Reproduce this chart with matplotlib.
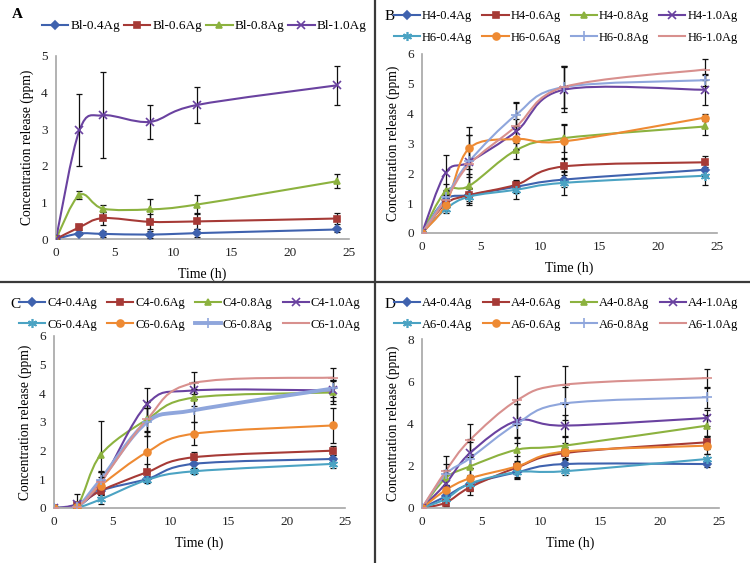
import numpy as np
import matplotlib.pyplot as plt
from matplotlib.path import Path
from matplotlib.patches import PathPatch
from matplotlib.lines import Line2D

plt.rcParams['font.family'] = ['Liberation Serif', 'DejaVu Serif']

# 时间点 (h)
time = [0, 2, 4, 8, 12, 24]

# A
labels_a = ['Bl-0.4Ag', 'Bl-0.6Ag', 'Bl-0.8Ag', 'Bl-1.0Ag']
vals_a = [
    [0, 0.15, 0.14, 0.12, 0.16, 0.26],
    [0, 0.32, 0.57, 0.47, 0.48, 0.56],
    [0, 1.20, 0.83, 0.81, 0.94, 1.58],
    [0, 2.97, 3.38, 3.20, 3.66, 4.20],
]
err_a = [
    [0, 0.05, 0.08, 0.10, 0.10, 0.08],
    [0, 0.08, 0.18, 0.20, 0.22, 0.16],
    [0, 0.10, 0.10, 0.28, 0.27, 0.20],
    [0, 0.98, 1.17, 0.46, 0.48, 0.54],
]

# B
labels_b = ['H4-0.4Ag', 'H4-0.6Ag', 'H4-0.8Ag', 'H4-1.0Ag',
            'H6-0.4Ag', 'H6-0.6Ag', 'H6-0.8Ag', 'H6-1.0Ag']
vals_b = [
    [0, 1.12, 1.27, 1.55, 1.79, 2.12],
    [0, 0.98, 1.27, 1.62, 2.23, 2.37],
    [0, 1.40, 1.58, 2.78, 3.18, 3.57],
    [0, 2.02, 2.38, 3.41, 4.80, 4.80],
    [0, 0.80, 1.22, 1.45, 1.68, 1.92],
    [0, 0.94, 2.84, 3.15, 3.07, 3.87],
    [0, 1.20, 2.40, 3.97, 4.89, 5.12],
    [0, 1.10, 2.30, 3.58, 4.89, 5.48],
]
err_b = [
    [0, 0.15, 0.20, 0.20, 0.25, 0.20],
    [0, 0.20, 0.25, 0.15, 0.30, 0.22],
    [0, 0.25, 0.40, 0.30, 0.45, 0.28],
    [0, 0.60, 0.50, 0.40, 0.75, 0.50],
    [0, 0.12, 0.28, 0.30, 0.40, 0.30],
    [0, 0.20, 0.70, 0.35, 0.60, 0.12],
    [0, 0.25, 0.90, 0.40, 0.70, 0.20],
    [0, 0.20, 1.00, 0.80, 0.70, 0.34],
]

# C
labels_c = ['C4-0.4Ag', 'C4-0.6Ag', 'C4-0.8Ag', 'C4-1.0Ag',
            'C6-0.4Ag', 'C6-0.6Ag', 'C6-0.8Ag', 'C6-1.0Ag']
vals_c = [
    [0, 0.05, 0.60, 1.01, 1.54, 1.71],
    [0, 0.10, 0.60, 1.25, 1.77, 2.00],
    [0, 0.10, 1.85, 3.09, 3.85, 4.03],
    [0, 0.15, 0.85, 3.62, 4.10, 4.10],
    [0, 0.02, 0.30, 0.98, 1.28, 1.54],
    [0, 0.05, 0.78, 1.95, 2.59, 2.88],
    [0, 0.05, 0.98, 3.00, 3.41, 4.17],
    [0, 0.05, 0.90, 3.10, 4.36, 4.55],
]
err_c = [
    [0, 0.02, 0.10, 0.10, 0.15, 0.15],
    [0, 0.05, 0.25, 0.30, 0.20, 0.15],
    [0, 0.05, 1.20, 0.40, 0.30, 0.40],
    [0, 0.35, 0.40, 0.57, 0.30, 0.35],
    [0, 0.02, 0.15, 0.10, 0.10, 0.15],
    [0, 0.05, 0.30, 0.70, 0.40, 0.60],
    [0, 0.05, 0.30, 0.50, 0.40, 0.30],
    [0, 0.05, 0.35, 0.60, 0.40, 0.35],
]

# D
labels_d = ['A4-0.4Ag', 'A4-0.6Ag', 'A4-0.8Ag', 'A4-1.0Ag',
            'A6-0.4Ag', 'A6-0.6Ag', 'A6-0.8Ag', 'A6-1.0Ag']
vals_d = [
    [0, 0.55, 1.13, 1.69, 2.08, 2.08],
    [0, 0.25, 0.97, 1.92, 2.60, 3.11],
    [0, 1.42, 1.96, 2.76, 2.95, 3.90],
    [0, 1.15, 2.58, 4.13, 3.90, 4.26],
    [0, 0.43, 1.15, 1.70, 1.74, 2.32],
    [0, 0.85, 1.40, 1.97, 2.67, 2.95],
    [0, 1.60, 2.34, 4.00, 4.95, 5.24],
    [0, 1.75, 3.20, 5.10, 5.84, 6.15],
]
err_d = [
    [0, 0.20, 0.30, 0.30, 0.30, 0.15],
    [0, 0.15, 0.35, 0.30, 0.30, 0.30],
    [0, 0.40, 0.60, 0.60, 0.40, 0.50],
    [0, 0.50, 0.70, 0.80, 0.50, 0.40],
    [0, 0.20, 0.35, 0.30, 0.20, 0.25],
    [0, 0.25, 0.50, 0.50, 0.40, 0.40],
    [0, 0.50, 0.80, 0.90, 0.80, 0.50],
    [0, 0.73, 0.80, 1.15, 0.90, 0.45],
]

colors = ['#3F62AE', '#A63A36', '#8CB23F', '#6A42A0',
          '#4BA3C3', '#EE8A33', '#8FA6DC', '#D8908E']
markers = ['D', 's', '^', 'x', (6, 2, 0), 'o', '+', '_']
msizes = [4, 5, 5, 5.5, 6.5, 5, 6.5, 6.5]

W, H = 750, 563


def smooth_path(x, y):
    # Excel式平滑曲线: 三次贝塞尔
    x = np.asarray(x, float)
    y = np.asarray(y, float)
    n = len(x)
    verts = [(x[0], y[0])]
    codes = [Path.MOVETO]
    for i in range(n - 1):
        i0 = max(i - 1, 0)
        i3 = min(i + 2, n - 1)
        c1 = (x[i] + (x[i + 1] - x[i0]) / 6, y[i] + (y[i + 1] - y[i0]) / 6)
        c2 = (x[i + 1] - (x[i3] - x[i]) / 6, y[i + 1] - (y[i3] - y[i]) / 6)
        verts += [c1, c2, (x[i + 1], y[i + 1])]
        codes += [Path.CURVE4] * 3
    return Path(verts, codes)


def make_axes(fig, left, right, y0, ytop, ymax, ystep):
    ax = fig.add_axes([left / W, 1 - y0 / H, (right - left) / W, (y0 - ytop) / H])
    ax.set_xlim(0, 25)
    ax.set_ylim(0, ymax)
    ax.set_xticks(range(0, 26, 5))
    ax.set_yticks(np.arange(0, ymax + 0.01, ystep))
    for s in ['top', 'right']:
        ax.spines[s].set_visible(False)
    for s in ['left', 'bottom']:
        ax.spines[s].set_color('#A6A6A6')
        ax.spines[s].set_linewidth(1.2)
    ax.tick_params(length=0, labelsize=9.5, pad=6, colors='#222222')
    ax.set_xlabel('Time (h)', fontsize=10, labelpad=6)
    ax.set_ylabel('Concentration release (ppm)', fontsize=9.8, labelpad=5)
    ax.patch.set_alpha(0)
    return ax


def draw_panel(ax, labels, vals, errs, widths=None):
    handles = []
    for i, lab in enumerate(labels):
        lw = 1.5 if widths is None else widths[i]
        patch = PathPatch(smooth_path(time, vals[i]), fill=False,
                          edgecolor=colors[i], lw=lw, transform=ax.transData,
                          zorder=2)
        ax.add_patch(patch)
        ax.errorbar(time, vals[i], yerr=errs[i], fmt='none', ecolor='#111111',
                    elinewidth=0.9, capsize=2.5, capthick=0.9, zorder=3)
        ax.plot(time, vals[i], ls='none', marker=markers[i], ms=msizes[i],
                color=colors[i], mec=colors[i], mew=1.2, zorder=4)
        handles.append(Line2D([], [], color=colors[i], lw=lw, marker=markers[i],
                              ms=msizes[i], mew=1.2))
    return handles


fig = plt.figure(figsize=(7.5, 5.63), dpi=100)

# A
ax_a = make_axes(fig, 56, 349, 239, 56, 5, 1)
h = draw_panel(ax_a, labels_a, vals_a, err_a)
fig.legend(h, labels_a, loc='upper left', bbox_to_anchor=(42 / W, 1 - 20 / H),
           ncol=4, frameon=False, fontsize=9.5, handlelength=2.0,
           handletextpad=0.15, columnspacing=0.3, borderpad=0, borderaxespad=0)
fig.text(12 / W, 1 - 14 / H, 'A', fontsize=11, fontweight='bold', va='center')

# B, C, D
panels = [
    ('B', labels_b, vals_b, err_b, (422, 717, 233, 54, 6, 1), (375, 0, 10), None),
    ('C', labels_c, vals_c, err_c, (54, 345, 508, 336, 6, 1), (0, 282, 15),
     [1.5, 1.5, 1.5, 1.5, 1.5, 1.5, 2.8, 1.5]),
    ('D', labels_d, vals_d, err_d, (422, 719, 508, 339, 8, 2), (375, 282, 15), None),
]
for letter, labs, vals, errs, geo, (ox, oy, dy), widths in panels:
    ax = make_axes(fig, *geo)
    h = draw_panel(ax, labs, vals, errs, widths)
    order = [0, 4, 1, 5, 2, 6, 3, 7]
    fig.legend([h[k] for k in order], [labs[k] for k in order], loc='upper left',
               bbox_to_anchor=((ox + 19) / W, 1 - (oy + dy) / H), ncol=4,
               frameon=False, fontsize=9, handlelength=2.1,
               handletextpad=0.15, columnspacing=0.8, labelspacing=0.78,
               borderpad=0, borderaxespad=0)
    fig.text((ox + 10) / W, 1 - (oy + dy + 7) / H, letter, fontsize=11,
             va='center')

# 分隔线
fig.add_artist(Line2D([0.5, 0.5], [0, 1], color='#3A3A3A', lw=1.6,
                      transform=fig.transFigure))
fig.add_artist(Line2D([0, 1], [1 - 282 / H, 1 - 282 / H], color='#3A3A3A',
                      lw=1.6, transform=fig.transFigure))

fig.savefig('out.png', dpi=100)
